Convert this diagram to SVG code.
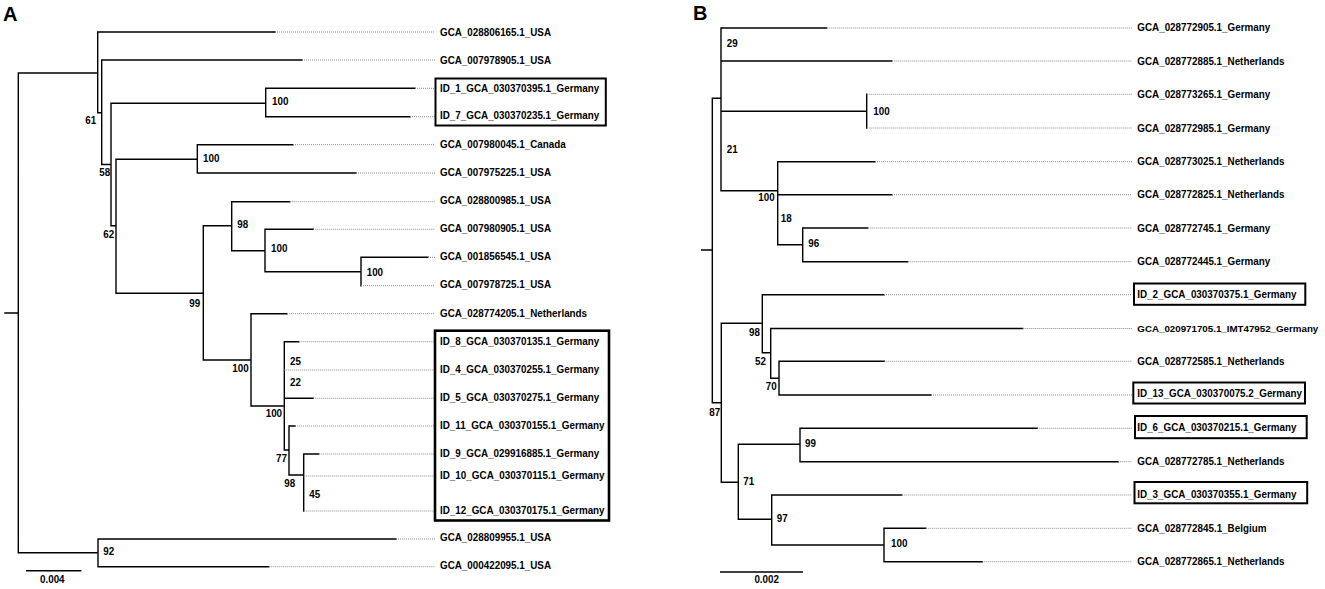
<svg xmlns="http://www.w3.org/2000/svg" width="1325" height="589" viewBox="0 0 1325 589">
<style>
  .br { fill: none; stroke: #000; stroke-width: 1.4; stroke-linecap: square; }
  .dt { fill: none; stroke: #8c8c8c; stroke-width: 1; stroke-dasharray: 1 1; }
  .lf { font-family: "Liberation Sans", Arial, sans-serif; font-weight: bold; font-size: 10.8px; fill: #000; }
  .lfs { font-family: "Liberation Sans", Arial, sans-serif; font-weight: bold; font-size: 9.9px; fill: #000; }
  .bs { font-family: "Liberation Sans", Arial, sans-serif; font-weight: bold; font-size: 10.8px; fill: #000; }
  .pn { font-family: "Liberation Sans", Arial, sans-serif; font-weight: bold; font-size: 20px; fill: #000; }
  .bx { fill: none; stroke: #000; stroke-width: 2; }
  .bx2 { fill: none; stroke: #000; stroke-width: 2.6; }
</style>
<rect width="1325" height="589" fill="#fff"/>

<text class="pn" x="3" y="21">A</text>
<text class="pn" x="693" y="20">B</text>

<g id="connectors">
  <!-- Panel A solid branches -->
  <path class="br" d="M5,313 H18.3 M18.3,73 V552.7 M18.3,73 H97.7 M97.7,32 V112.7 M97.7,32 H275
  M97.7,112.7 H101.7 M101.7,60 V164.5 M101.7,60 H302 M101.7,164.5 H111
  M111,103.3 V225.7 M111,103.3 H265.7 M265.7,88.3 V116.7 M265.7,88.3 H415 M265.7,116.7 H410
  M111,225.7 H116 M116,159.3 V293.3 M116,159.3 H197.3 M197.3,144.7 V173 M197.3,144.7 H293 M197.3,173 H356
  M116,293.3 H203.3 M203.3,225.7 V360 M203.3,225.7 H231.7 M231.7,201.7 V250.7 M231.7,201.7 H289.7
  M231.7,250.7 H265 M265,229.3 V271.7 M265,229.3 H313.3 M265,271.7 H361 M361,257.3 V285.7 M361,257.3 H428
  M203.3,360 H251 M251,313.7 V406 M251,313.7 H287 M251,406 H284.3
  M284.3,341.7 V450 M284.3,341.7 H298.7 M284.3,398.3 H313.3 M284.3,450 H289
  M289,426 V475 M289,426 H295 M289,475 H303.7 M303.7,454 V511 M303.7,454 H318.7
  M18.3,552.7 H98 M98,539 V566.7 M98,539 H396 M98,566.7 H268.7"/>
  <!-- Panel A dotted extensions -->
  <path class="dt" d="M275,32 H435 M302,60 H435 M415,88.3 H435 M410,116.7 H435 M293,144.7 H435 M356,173 H435
  M289.7,201.7 H435 M313.3,229.3 H435 M428,257.3 H435 M361,285.7 H435 M287,313.7 H435
  M298.7,341.7 H435 M284.3,370 H435 M313.3,398.3 H435 M295,426 H435 M318.7,454 H435
  M303.7,476 H435 M303.7,511 H435 M396,539 H435 M268.7,566.7 H435"/>
  <!-- Panel A scale bar -->
  <path class="br" d="M26.7,570.7 H80.7"/>

  <!-- Panel B solid branches -->
  <path class="br" d="M701.7,250 H712.3 M712.3,98.3 V402.7 M712.3,98.3 H721 M721,28 V190.7
  M721,28 H826.7 M721,61 H891.7 M721,111.3 H866.7 M866.7,94.3 V128
  M721,190.7 H777.7 M777.7,161.7 V244.7 M777.7,161.7 H875 M777.7,194.7 H892
  M777.7,244.7 H802.7 M802.7,228 V261.7 M802.7,228 H867.7 M802.7,261.7 H907.7
  M712.3,402.7 H721.3 M721.3,323.3 V482.3 M721.3,323.3 H762.3 M762.3,294.7 V352.7 M762.3,294.7 H884
  M762.3,352.7 H770.7 M770.7,328.5 V378.3 M770.7,328.5 H1022.7 M770.7,378.3 H779
  M779,361.3 V395 M779,361.3 H884.3 M779,395 H931
  M721.3,482.3 H738.3 M738.3,444.3 V519.3 M738.3,444.3 H800 M800,428.3 V461.7 M800,428.3 H1037.3 M800,461.7 H1118.3
  M738.3,519.3 H771.7 M771.7,495 V545 M771.7,495 H901.7 M771.7,545 H884
  M884,528.3 V561.7 M884,528.3 H925.7 M884,561.7 H982.3"/>
  <!-- Panel B dotted extensions -->
  <path class="dt" d="M826.7,28 H1132 M891.7,61 H1132 M866.7,94.3 H1132 M866.7,128 H1132
  M875,161.7 H1132 M892,194.7 H1132 M867.7,228 H1132 M907.7,261.7 H1132
  M884,294.7 H1132 M1022.7,328.5 H1132 M884.3,361.3 H1132 M931,395 H1132
  M1037.3,428.3 H1132 M1118.3,461.7 H1132 M901.7,495 H1132 M925.7,528.3 H1132 M982.3,561.7 H1132"/>
  <!-- Panel B scale bar -->
  <path class="br" d="M720.7,572 H802.3"/>
</g>

<!-- Highlight boxes -->
<g id="boxes">
  <rect class="bx" x="435.5" y="78.5" width="170.3" height="47"/>
  <rect class="bx2" x="435" y="330.7" width="174" height="189.8"/>
  <rect class="bx" x="1134" y="283.5" width="171.3" height="21.3"/>
  <rect class="bx" x="1133.3" y="382.5" width="171.7" height="21"/>
  <rect class="bx" x="1135" y="416" width="171.7" height="22.2"/>
  <rect class="bx" x="1134.5" y="482" width="172.7" height="21.3"/>
</g>

<!-- Panel A leaves -->
<g id="a-leaf-01"><text class="lf" x="440" y="35.9" textLength="111" lengthAdjust="spacingAndGlyphs">GCA_028806165.1_USA</text></g>
<g id="a-leaf-02"><text class="lf" x="440" y="63.9" textLength="111" lengthAdjust="spacingAndGlyphs">GCA_007978905.1_USA</text></g>
<g id="a-leaf-03"><text class="lf" x="440" y="91.5" textLength="159.2" lengthAdjust="spacingAndGlyphs">ID_1_GCA_030370395.1_Germany</text></g>
<g id="a-leaf-04"><text class="lf" x="440" y="119" textLength="159.2" lengthAdjust="spacingAndGlyphs">ID_7_GCA_030370235.1_Germany</text></g>
<g id="a-leaf-05"><text class="lf" x="440" y="147.9" textLength="125.8" lengthAdjust="spacingAndGlyphs">GCA_007980045.1_Canada</text></g>
<g id="a-leaf-06"><text class="lf" x="440" y="175.9" textLength="111" lengthAdjust="spacingAndGlyphs">GCA_007975225.1_USA</text></g>
<g id="a-leaf-07"><text class="lf" x="440" y="203.9" textLength="111" lengthAdjust="spacingAndGlyphs">GCA_028800985.1_USA</text></g>
<g id="a-leaf-08"><text class="lf" x="440" y="231.9" textLength="111" lengthAdjust="spacingAndGlyphs">GCA_007980905.1_USA</text></g>
<g id="a-leaf-09"><text class="lf" x="440" y="259.9" textLength="111" lengthAdjust="spacingAndGlyphs">GCA_001856545.1_USA</text></g>
<g id="a-leaf-10"><text class="lf" x="440" y="287.9" textLength="111" lengthAdjust="spacingAndGlyphs">GCA_007978725.1_USA</text></g>
<g id="a-leaf-11"><text class="lf" x="440" y="316.6" textLength="147.1" lengthAdjust="spacingAndGlyphs">GCA_028774205.1_Netherlands</text></g>
<g id="a-leaf-12"><text class="lf" x="440" y="344.6" textLength="159.2" lengthAdjust="spacingAndGlyphs">ID_8_GCA_030370135.1_Germany</text></g>
<g id="a-leaf-13"><text class="lf" x="440" y="372.6" textLength="159.2" lengthAdjust="spacingAndGlyphs">ID_4_GCA_030370255.1_Germany</text></g>
<g id="a-leaf-14"><text class="lf" x="440" y="400.6" textLength="159.2" lengthAdjust="spacingAndGlyphs">ID_5_GCA_030370275.1_Germany</text></g>
<g id="a-leaf-15"><text class="lf" x="440" y="428.6" textLength="164.6" lengthAdjust="spacingAndGlyphs">ID_11_GCA_030370155.1_Germany</text></g>
<g id="a-leaf-16"><text class="lf" x="440" y="457.2" textLength="159.2" lengthAdjust="spacingAndGlyphs">ID_9_GCA_029916885.1_Germany</text></g>
<g id="a-leaf-17"><text class="lf" x="440" y="478.9" textLength="164.6" lengthAdjust="spacingAndGlyphs">ID_10_GCA_030370115.1_Germany</text></g>
<g id="a-leaf-18"><text class="lf" x="440" y="513.9" textLength="164.6" lengthAdjust="spacingAndGlyphs">ID_12_GCA_030370175.1_Germany</text></g>
<g id="a-leaf-19"><text class="lf" x="440" y="540.9" textLength="111" lengthAdjust="spacingAndGlyphs">GCA_028809955.1_USA</text></g>
<g id="a-leaf-20"><text class="lf" x="440" y="568.9" textLength="111" lengthAdjust="spacingAndGlyphs">GCA_000422095.1_USA</text></g>

<!-- Panel A bootstrap values -->
<g id="a-bs-61"><text class="bs" x="85.3" y="123.9" textLength="10.9" lengthAdjust="spacingAndGlyphs">61</text></g>
<g id="a-bs-58"><text class="bs" x="99.3" y="175.6" textLength="10.9" lengthAdjust="spacingAndGlyphs">58</text></g>
<g id="a-bs-100a"><text class="bs" x="272" y="104.6" textLength="16.4" lengthAdjust="spacingAndGlyphs">100</text></g>
<g id="a-bs-100b"><text class="bs" x="203" y="161.9" textLength="16.4" lengthAdjust="spacingAndGlyphs">100</text></g>
<g id="a-bs-62"><text class="bs" x="103.3" y="238.2" textLength="10.9" lengthAdjust="spacingAndGlyphs">62</text></g>
<g id="a-bs-98a"><text class="bs" x="237.3" y="227.9" textLength="10.9" lengthAdjust="spacingAndGlyphs">98</text></g>
<g id="a-bs-100c"><text class="bs" x="271" y="252.2" textLength="16.4" lengthAdjust="spacingAndGlyphs">100</text></g>
<g id="a-bs-100d"><text class="bs" x="366.7" y="275.6" textLength="16.4" lengthAdjust="spacingAndGlyphs">100</text></g>
<g id="a-bs-99"><text class="bs" x="189.3" y="306.6" textLength="10.9" lengthAdjust="spacingAndGlyphs">99</text></g>
<g id="a-bs-100e"><text class="bs" x="232.3" y="372.2" textLength="16.4" lengthAdjust="spacingAndGlyphs">100</text></g>
<g id="a-bs-25"><text class="bs" x="290" y="364.9" textLength="10.9" lengthAdjust="spacingAndGlyphs">25</text></g>
<g id="a-bs-22"><text class="bs" x="290" y="385.6" textLength="10.9" lengthAdjust="spacingAndGlyphs">22</text></g>
<g id="a-bs-100f"><text class="bs" x="265.7" y="417.2" textLength="16.4" lengthAdjust="spacingAndGlyphs">100</text></g>
<g id="a-bs-77"><text class="bs" x="276" y="462.2" textLength="10.9" lengthAdjust="spacingAndGlyphs">77</text></g>
<g id="a-bs-98b"><text class="bs" x="284.3" y="487.2" textLength="10.9" lengthAdjust="spacingAndGlyphs">98</text></g>
<g id="a-bs-45"><text class="bs" x="309.3" y="498.2" textLength="10.9" lengthAdjust="spacingAndGlyphs">45</text></g>
<g id="a-bs-92"><text class="bs" x="103.3" y="554.6" textLength="10.9" lengthAdjust="spacingAndGlyphs">92</text></g>
<g id="a-scale"><text class="bs" x="40" y="583.2" textLength="24.6" lengthAdjust="spacingAndGlyphs">0.004</text></g>

<!-- Panel B leaves -->
<g id="b-leaf-01"><text class="lf" x="1137.3" y="31.2" textLength="132.9" lengthAdjust="spacingAndGlyphs">GCA_028772905.1_Germany</text></g>
<g id="b-leaf-02"><text class="lf" x="1137.3" y="64.9" textLength="147.1" lengthAdjust="spacingAndGlyphs">GCA_028772885.1_Netherlands</text></g>
<g id="b-leaf-03"><text class="lf" x="1137.3" y="98.2" textLength="132.9" lengthAdjust="spacingAndGlyphs">GCA_028773265.1_Germany</text></g>
<g id="b-leaf-04"><text class="lf" x="1137.3" y="131.6" textLength="132.9" lengthAdjust="spacingAndGlyphs">GCA_028772985.1_Germany</text></g>
<g id="b-leaf-05"><text class="lf" x="1137.3" y="164.9" textLength="147.1" lengthAdjust="spacingAndGlyphs">GCA_028773025.1_Netherlands</text></g>
<g id="b-leaf-06"><text class="lf" x="1137.3" y="198.2" textLength="147.1" lengthAdjust="spacingAndGlyphs">GCA_028772825.1_Netherlands</text></g>
<g id="b-leaf-07"><text class="lf" x="1137.3" y="231.6" textLength="132.9" lengthAdjust="spacingAndGlyphs">GCA_028772745.1_Germany</text></g>
<g id="b-leaf-08"><text class="lf" x="1137.3" y="264.9" textLength="132.9" lengthAdjust="spacingAndGlyphs">GCA_028772445.1_Germany</text></g>
<g id="b-leaf-09"><text class="lf" x="1137.3" y="298.2" textLength="159.2" lengthAdjust="spacingAndGlyphs">ID_2_GCA_030370375.1_Germany</text></g>
<g id="b-leaf-10"><text class="lfs" x="1137.3" y="331.9" textLength="181" lengthAdjust="spacingAndGlyphs">GCA_020971705.1_IMT47952_Germany</text></g>
<g id="b-leaf-11"><text class="lf" x="1137.3" y="364.9" textLength="147.1" lengthAdjust="spacingAndGlyphs">GCA_028772585.1_Netherlands</text></g>
<g id="b-leaf-12"><text class="lf" x="1137.3" y="397.4" textLength="164.6" lengthAdjust="spacingAndGlyphs">ID_13_GCA_030370075.2_Germany</text></g>
<g id="b-leaf-13"><text class="lf" x="1137.3" y="431.2" textLength="159.2" lengthAdjust="spacingAndGlyphs">ID_6_GCA_030370215.1_Germany</text></g>
<g id="b-leaf-14"><text class="lf" x="1137.3" y="464.9" textLength="147.1" lengthAdjust="spacingAndGlyphs">GCA_028772785.1_Netherlands</text></g>
<g id="b-leaf-15"><text class="lf" x="1137.3" y="498.1" textLength="159.2" lengthAdjust="spacingAndGlyphs">ID_3_GCA_030370355.1_Germany</text></g>
<g id="b-leaf-16"><text class="lf" x="1137.3" y="532.2" textLength="129.1" lengthAdjust="spacingAndGlyphs">GCA_028772845.1_Belgium</text></g>
<g id="b-leaf-17"><text class="lf" x="1137.3" y="564.9" textLength="147.1" lengthAdjust="spacingAndGlyphs">GCA_028772865.1_Netherlands</text></g>

<!-- Panel B bootstrap values -->
<g id="b-bs-29"><text class="bs" x="726.7" y="47.2" textLength="10.9" lengthAdjust="spacingAndGlyphs">29</text></g>
<g id="b-bs-100a"><text class="bs" x="873.3" y="115.2" textLength="16.4" lengthAdjust="spacingAndGlyphs">100</text></g>
<g id="b-bs-21"><text class="bs" x="726.7" y="153.2" textLength="10.9" lengthAdjust="spacingAndGlyphs">21</text></g>
<g id="b-bs-100b"><text class="bs" x="758.3" y="200.6" textLength="16.4" lengthAdjust="spacingAndGlyphs">100</text></g>
<g id="b-bs-18"><text class="bs" x="780.7" y="222.2" textLength="10.9" lengthAdjust="spacingAndGlyphs">18</text></g>
<g id="b-bs-96"><text class="bs" x="808.3" y="247.2" textLength="10.9" lengthAdjust="spacingAndGlyphs">96</text></g>
<g id="b-bs-98"><text class="bs" x="749" y="335.6" textLength="10.9" lengthAdjust="spacingAndGlyphs">98</text></g>
<g id="b-bs-52"><text class="bs" x="755" y="364.6" textLength="10.9" lengthAdjust="spacingAndGlyphs">52</text></g>
<g id="b-bs-70"><text class="bs" x="765.7" y="389.9" textLength="10.9" lengthAdjust="spacingAndGlyphs">70</text></g>
<g id="b-bs-87"><text class="bs" x="709.3" y="415.6" textLength="10.9" lengthAdjust="spacingAndGlyphs">87</text></g>
<g id="b-bs-99"><text class="bs" x="805" y="447.2" textLength="10.9" lengthAdjust="spacingAndGlyphs">99</text></g>
<g id="b-bs-71"><text class="bs" x="743.3" y="484.9" textLength="10.9" lengthAdjust="spacingAndGlyphs">71</text></g>
<g id="b-bs-97"><text class="bs" x="776.7" y="522.2" textLength="10.9" lengthAdjust="spacingAndGlyphs">97</text></g>
<g id="b-bs-100c"><text class="bs" x="891" y="547.2" textLength="16.4" lengthAdjust="spacingAndGlyphs">100</text></g>
<g id="b-scale"><text class="bs" x="754.4" y="583.2" textLength="24.6" lengthAdjust="spacingAndGlyphs">0.002</text></g>
</svg>
